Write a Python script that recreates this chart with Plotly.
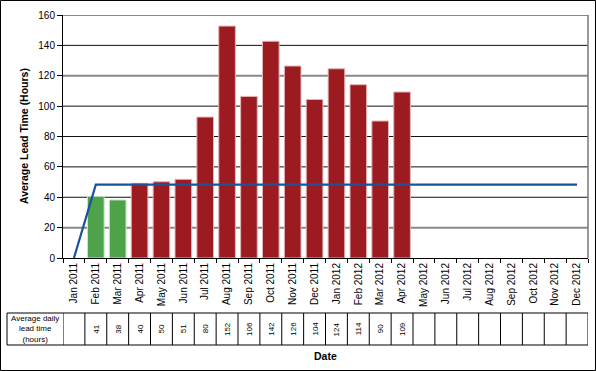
import plotly.graph_objects as go

months = ["Jan 2011", "Feb 2011", "Mar 2011", "Apr 2011", "May 2011", "Jun 2011",
          "Jul 2011", "Aug 2011", "Sep 2011", "Oct 2011", "Nov 2011", "Dec 2011",
          "Jan 2012", "Feb 2012", "Mar 2012", "Apr 2012", "May 2012", "Jun 2012",
          "Jul 2012", "Aug 2012", "Sep 2012", "Oct 2012", "Nov 2012", "Dec 2012"]
green_months = ["Feb 2011", "Mar 2011"]
green_values = [40.6, 38.2]
red_months = ["Apr 2011", "May 2011", "Jun 2011", "Jul 2011", "Aug 2011", "Sep 2011",
              "Oct 2011", "Nov 2011", "Dec 2011", "Jan 2012", "Feb 2012", "Mar 2012", "Apr 2012"]
red_values = [49.2, 50.2, 51.8, 92.8, 152.7, 106.4, 142.7, 126.4, 104.4, 124.6, 114.1, 90.2, 109.3]
target_months = months
target_values = [0] + [48.3] * 23
table_months = ["Feb 2011", "Mar 2011", "Apr 2011", "May 2011", "Jun 2011", "Jul 2011",
                "Aug 2011", "Sep 2011", "Oct 2011", "Nov 2011", "Dec 2011", "Jan 2012",
                "Feb 2012", "Mar 2012", "Apr 2012"]
table_values = ["41", "38", "40", "50", "51", "80", "152", "106", "142", "126", "104",
                "124", "114", "90", "109"]
y_ticks = [0, 20, 40, 60, 80, 100, 120, 140, 160]

W, H = 596, 371
L, R, T, B = 63, 588, 15, 258

def px(x):
    return (x - L) / (R - L)

def py(y):
    return (B - y) / (B - T)

font = "Liberation Sans, Arial, sans-serif"
fig = go.Figure()
fig.add_trace(go.Bar(x=green_months, y=green_values, marker=dict(color="#4ea24a", line=dict(color="#c8e3c6", width=1)), width=0.76))
fig.add_trace(go.Bar(x=red_months, y=red_values, marker=dict(color="#9c1b21", line=dict(color="#e3b4b6", width=1)), width=0.76))
fig.add_trace(go.Scatter(x=target_months, y=target_values, mode="lines", line=dict(color="#1a52a0", width=2.2)))

shapes = []
for v in y_ticks[1:]:
    gray = v in (20, 120, 160)
    shapes.append(dict(type="line", xref="paper", yref="y", x0=0, x1=1, y0=v, y1=v,
                       line=dict(color="#888888" if gray else "#111111", width=2 if gray else 1), layer="below"))
shapes.append(dict(type="line", xref="paper", yref="paper", x0=1, x1=1, y0=0, y1=1, line=dict(color="#777777", width=1.5)))
shapes.append(dict(type="rect", xref="paper", yref="paper", x0=px(0.5), x1=px(595.5), y0=py(370.5), y1=py(0.5),
                   line=dict(color="#000000", width=1)))
ty0, ty1 = py(345), py(313)
shapes.append(dict(type="line", xref="paper", yref="paper", x0=px(7), x1=px(588), y0=ty1, y1=ty1, line=dict(color="#000", width=1)))
shapes.append(dict(type="line", xref="paper", yref="paper", x0=px(7), x1=px(588), y0=ty0, y1=ty0, line=dict(color="#000", width=1)))
shapes.append(dict(type="line", xref="paper", yref="paper", x0=px(7), x1=px(7), y0=ty0, y1=ty1, line=dict(color="#000", width=1)))
for i in range(len(months) + 1):
    shapes.append(dict(type="line", xref="x", yref="paper", x0=i - 0.5, x1=i - 0.5, y0=ty0, y1=ty1, line=dict(color="#000", width=1)))

annotations = []
for m, v in zip(table_months, table_values):
    annotations.append(dict(x=m, y=py(329), xref="x", yref="paper", text=v, showarrow=False,
                            xanchor="center", yanchor="middle",
                            textangle=-90, font=dict(size=8, family=font, color="#000")))
annotations.append(dict(x=px(35), y=py(329), xref="paper", yref="paper", text="Average daily<br>lead time<br>(hours)",
                        showarrow=False, xanchor="center", yanchor="middle",
                        font=dict(size=8, family=font, color="#000")))
annotations.append(dict(x=px(325), y=py(356), xref="paper", yref="paper", text="<b>Date</b>",
                        showarrow=False, xanchor="center", yanchor="middle",
                        font=dict(size=10.5, family=font, color="#000")))
annotations.append(dict(x=px(24), y=py(136), xref="paper", yref="paper", text="<b>Average Lead Time (Hours)</b>",
                        showarrow=False, xanchor="center", yanchor="middle", textangle=-90,
                        font=dict(size=10.5, family=font, color="#000")))

fig.update_layout(
    width=W, height=H, margin=dict(l=L, r=W - R, t=T, b=H - B),
    paper_bgcolor="white", plot_bgcolor="white", showlegend=False, barmode="overlay",
    font=dict(family=font, size=10, color="#000"),
    shapes=shapes, annotations=annotations,
    xaxis=dict(type="category", categoryorder="array", categoryarray=months, range=[-0.5, 23.5],
               tickangle=-90, ticks="outside", tickson="boundaries", ticklen=4, tickcolor="#000",
               showline=True, linecolor="#000", linewidth=1, showgrid=False, tickfont=dict(size=10, family=font)),
    yaxis=dict(range=[0, 160], tickvals=y_ticks, ticks="outside", ticklen=5, tickcolor="#000",
               showline=True, linecolor="#000", linewidth=1, showgrid=False, zeroline=False,
               tickfont=dict(size=10, family=font)),
)
fig.write_html("out.html")
